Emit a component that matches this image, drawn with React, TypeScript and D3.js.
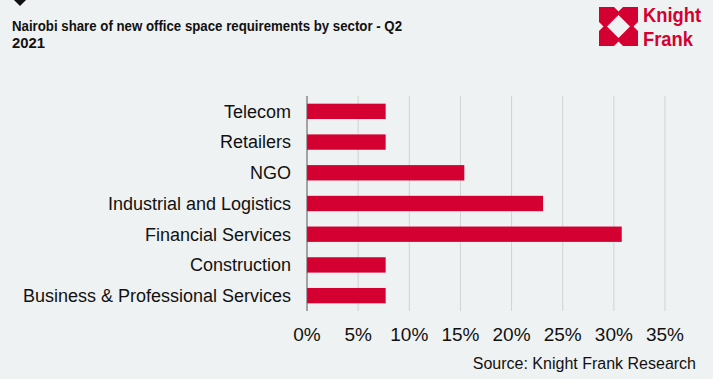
import React from "react";
import * as d3 from "d3";

const categories = [
  "Telecom",
  "Retailers",
  "NGO",
  "Industrial and Logistics",
  "Financial Services",
  "Construction",
  "Business & Professional Services",
];
const shares = [7.69, 7.69, 15.38, 23.08, 30.77, 7.69, 7.69];
const xTicks = [0, 5, 10, 15, 20, 25, 30, 35];
const titleLines = ["Nairobi share of new office space requirements by sector - Q2", "2021"];
const sourceText = "Source: Knight Frank Research";

const W = 713;
const H = 379;
const RED = "#d50032";
const BG = "#eff2f2";
const FONT = "'Liberation Sans', Arial, sans-serif";

export default function App() {
  const x = d3.scaleLinear().domain([0, 35]).range([307, 665]);
  const y = d3.scaleBand().domain(categories).range([96, 311]).paddingInner(0.5).paddingOuter(0.25);

  return (
    <svg width={W} height={H} style={{ position: "absolute", left: 0, top: 0, display: "block" }}>
      <rect x={0} y={0} width={W} height={H} fill={BG} />
      {/* small diamond marker */}
      <path d="M14,0 L26,0 L20,6 Z" fill="#111" />
      <text x={12} y={31} fontFamily={FONT} fontSize={15.5} fontWeight="bold" fill="#111" textLength={390} lengthAdjust="spacingAndGlyphs">
        {titleLines[0]}
      </text>
      <text x={12} y={48} fontFamily={FONT} fontSize={15.5} fontWeight="bold" fill="#111" textLength={33} lengthAdjust="spacingAndGlyphs">
        {titleLines[1]}
      </text>
      {/* logo */}
      <g>
        <rect x={599} y={7} width={39} height={39} fill={RED} />
        <path d="M618.5,15 L630,26.5 L618.5,38 L607,26.5 Z" fill={BG} />
        <path d="M614,7 L618.5,11.5 L623,7 Z" fill={BG} />
        <path d="M614,46 L618.5,41.5 L623,46 Z" fill={BG} />
        <path d="M599,22 L603.5,26.5 L599,31 Z" fill={BG} />
        <path d="M638,22 L633.5,26.5 L638,31 Z" fill={BG} />
        <text x={643} y={22} fontFamily={FONT} fontSize={20} fontWeight="bold" fill={RED} textLength={58} lengthAdjust="spacingAndGlyphs">
          Knight
        </text>
        <text x={643} y={46} fontFamily={FONT} fontSize={20} fontWeight="bold" fill={RED} textLength={50} lengthAdjust="spacingAndGlyphs">
          Frank
        </text>
      </g>
      {/* gridlines */}
      {xTicks.slice(1).map((t) => (
        <line key={t} x1={x(t)} x2={x(t)} y1={96} y2={311} stroke="#d0d3d3" strokeWidth={1} />
      ))}
      {/* bars */}
      {categories.map((c, i) => (
        <rect key={c} x={x(0)} y={y(c)!} width={x(shares[i]) - x(0)} height={y.bandwidth()} fill={RED} />
      ))}
      <line x1={x(0)} x2={x(0)} y1={96} y2={311} stroke="#555" strokeWidth={1} />
      {/* category labels */}
      {categories.map((c) => (
        <text
          key={c}
          x={291}
          y={y(c)! + y.bandwidth() / 2}
          dy="0.35em"
          textAnchor="end"
          fontFamily={FONT}
          fontSize={18}
          fill="#111"
        >
          {c}
        </text>
      ))}
      {/* tick labels */}
      {xTicks.map((t) => (
        <text key={t} x={x(t)} y={341} textAnchor="middle" fontFamily={FONT} fontSize={19} fill="#111">
          {t + "%"}
        </text>
      ))}
      <text x={696} y={369} textAnchor="end" fontFamily={FONT} fontSize={16} fill="#111">
        {sourceText}
      </text>
    </svg>
  );
}
